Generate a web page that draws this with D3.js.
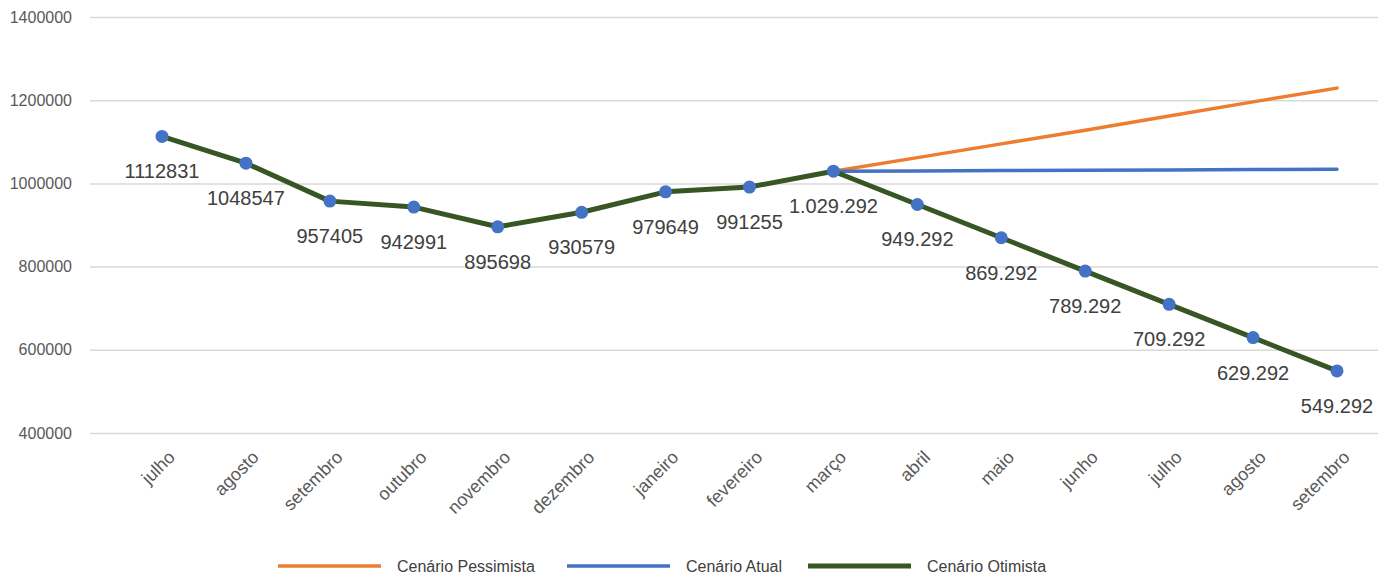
<!DOCTYPE html>
<html><head><meta charset="utf-8">
<script src="https://cdn.jsdelivr.net/npm/d3@7"></script>
<style>body{margin:0;background:#fff}svg{display:block}text{font-family:"Liberation Sans",Arial,sans-serif}</style>
</head><body><svg id="c" width="1378" height="574"></svg>
<script>
const months = ["julho","agosto","setembro","outubro","novembro","dezembro","janeiro","fevereiro","março","abril","maio","junho","julho","agosto","setembro"];
const otimista = [1112831,1048547,957405,942991,895698,930579,979649,991255,1029292,949292,869292,789292,709292,629292,549292];
const otimistaLabels = ["1112831","1048547","957405","942991","895698","930579","979649","991255","1.029.292","949.292","869.292","789.292","709.292","629.292","549.292"];
const atual = [null,null,null,null,null,null,null,null,1029292,1030100,1030900,1031700,1032500,1033300,1034100];
const pessimista = [null,null,null,null,null,null,null,null,1029292,1062000,1095000,1128000,1162000,1196000,1229000];
const yTicks = [400000,600000,800000,1000000,1200000,1400000];
const legendNames = ["Cenário Pessimista","Cenário Atual","Cenário Otimista"];

const svg = d3.select("#c");
const idx = months.map((_, i) => i);
const x = d3.scalePoint().domain(idx).range([162, 1337]);
const y = d3.scaleLinear().domain([400000, 1400000]).range([433, 17]);

const ya = svg.append("g").attr("transform","translate(90,0)")
  .call(d3.axisLeft(y).tickValues(yTicks).tickSize(-1288).tickFormat(d3.format("d")).tickPadding(18));
ya.select(".domain").remove();
ya.selectAll(".tick line").attr("stroke","#d9d9d9").attr("stroke-width",1.5);
ya.selectAll(".tick text").attr("fill","#595959").attr("font-size",16);

const xa = svg.append("g").attr("transform","translate(0,433)")
  .call(d3.axisBottom(x).tickSize(0).tickFormat(i => months[i]));
xa.select(".domain").remove();
xa.selectAll(".tick text").attr("fill","#595959").attr("font-size",18)
  .attr("text-anchor","end").attr("transform","translate(9,21) rotate(-45)").attr("dy","0.35em").attr("y",0);

const line = d3.line().defined(d => d[1] != null).x(d => x(d[0])).y(d => y(d[1]));
const pts = arr => arr.map((v, i) => [i, v]);

svg.append("path").attr("d", line(pts(pessimista))).attr("fill","none").attr("stroke","#ED7D31").attr("stroke-width",3.5).attr("stroke-linecap","round");
svg.append("path").attr("d", line(pts(atual))).attr("fill","none").attr("stroke","#4472C4").attr("stroke-width",3.5).attr("stroke-linecap","round");
svg.append("path").attr("d", line(pts(otimista))).attr("fill","none").attr("stroke","#375623").attr("stroke-width",5).attr("stroke-linejoin","round");

svg.append("g").selectAll("circle").data(pts(otimista)).join("circle")
  .attr("cx", d => x(d[0])).attr("cy", d => y(d[1])).attr("r",6.5).attr("fill","#4472C4");

svg.append("g").selectAll("text").data(pts(otimista)).join("text")
  .attr("x", d => x(d[0]))
  .attr("y", d => y(d[1]) + 35).attr("dy","0.35em")
  .attr("text-anchor","middle").attr("font-size",20).attr("fill","#404040")
  .text(d => otimistaLabels[d[0]]);

const legColors = ["#ED7D31","#4472C4","#375623"];
const legX = [278, 567, 808];
const lg = svg.append("g");
legendNames.forEach((n, i) => {
  lg.append("line").attr("x1", legX[i]).attr("x2", legX[i] + 103).attr("y1",566).attr("y2",566)
    .attr("stroke", legColors[i]).attr("stroke-width", i === 2 ? 5 : 3.5);
  lg.append("text").attr("x", legX[i] + 119).attr("y",566).attr("dy","0.35em")
    .attr("font-size",16).attr("fill","#404040").text(n);
});
</script></body></html>
